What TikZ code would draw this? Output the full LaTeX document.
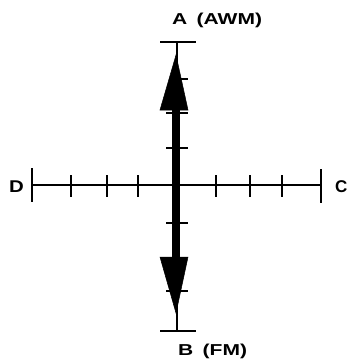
\documentclass[tikz,border=0pt]{standalone}
\usepackage{fontspec}
\setmainfont{Liberation Sans}
\begin{document}
\begin{tikzpicture}[x=1pt,y=-1pt,
  axisline/.style={line width=2.6pt},
  tickmark/.style={line width=2.6pt},
  endbar/.style={line width=2.8pt},
  thinline/.style={line width=1.6pt},
  shaft/.style={line width=8pt},
  head/.style={fill=black,draw=black,line width=0.5pt,line join=miter},
  lbl/.style={inner sep=0pt,anchor=base west,font=\fontsize{15.8}{16}\selectfont\bfseries},
  sidelbl/.style={inner sep=0pt,anchor=base west,font=\fontsize{17}{18}\selectfont\bfseries}]
\useasboundingbox (0,0) rectangle (350,362);
% coordinates
\coordinate (L) at (32,185);
\coordinate (R) at (321,185);
\coordinate (T) at (177,42);
\coordinate (Bt) at (177,331);
% horizontal axis
\draw[axisline] (L) -- (R);
\draw[endbar] (32,168) -- (32,202);
\draw[endbar] (321,169) -- (321,203);
\foreach \x in {71,107,138,216,250,282}
  \draw[tickmark] (\x,175) -- (\x,197);
% vertical axis
\draw[thinline] (T) -- (Bt);
\draw[endbar] (160,42) -- (196,42);
\draw[endbar] (160,331) -- (196,331);
\draw[shaft] (176,108) -- (176,259);
\fill[head] (176,55) -- (188,110) -- (160,110) -- cycle;
\fill[head] (160,257) -- (188,257) -- (176,313) -- cycle;
\draw[tickmark] (170,79) -- (188,79);
\foreach \y in {113,148,223,291}
  \draw[tickmark] (166,\y) -- (188,\y);
% labels
\node[lbl] (la) at (172,24) {\scalebox{1.33}[1]{A\hspace{7pt}(AWM)}};
\node[lbl] (lb) at (178,355) {\scalebox{1.33}[1]{B\hspace{7pt}(FM)}};
\node[sidelbl] (ld) at (9,192) {\scalebox{1.2}[1]{D}};
\node[sidelbl] (lc) at (335,192) {C};
\end{tikzpicture}
\end{document}
